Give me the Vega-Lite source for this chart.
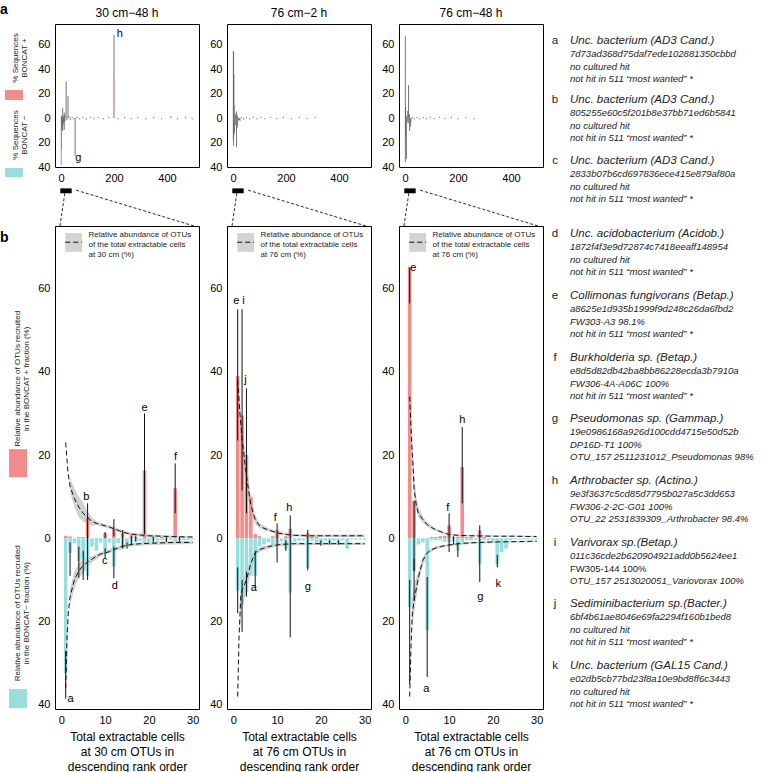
{
"$schema": "https://vega.github.io/schema/vega-lite/v6.json",
"padding": {"top": 2, "left": 0, "right": 0, "bottom": 0},
"autosize": {"type": "pad"},
"background": "white",
"config": {
  "font": "Liberation Sans",
  "view": {"stroke": "#000", "strokeWidth": 1},
  "axis": {"grid": false, "domain": false, "ticks": false, "labelFontSize": 11, "labelColor": "#000", "labelPadding": 5, "labelFlush": false, "labelOverlap": false, "titleFontWeight": "normal", "titleColor": "#000", "titleFontSize": 12},
  "title": {"fontSize": 12, "fontWeight": "normal", "offset": 4, "color": "#000"}
},
"columns": 5,
"bounds": "flush",
"align": "each",
"spacing": {"row": 59, "column": 28},
"concat": [
  {
    "width": 21, "height": 143, "view": {"stroke": null},
    "encoding": {
      "x": {"field": "x", "type": "quantitative", "scale": {"domain": [0, 21], "nice": false, "zero": false}, "axis": null},
      "y": {"field": "y", "type": "quantitative", "scale": {"domain": [-40, 77], "nice": false, "zero": false}, "axis": null}
    },
    "layer": [
      {"data": {"name": "sideTopBox"}, "mark": {"type": "rect"},
       "encoding": {"x2": {"field": "x2"}, "y2": {"field": "y2"}, "color": {"condition": {"test": "datum.s == 'plus'", "value": "#f28c8c"}, "value": "#99dede"}}},
      {"data": {"name": "sideTopText"}, "mark": {"type": "text", "angle": 270, "fontSize": 8, "lineBreak": "\n", "lineHeight": 9, "color": "#222"},
       "encoding": {"text": {"field": "t"}}},
      {"data": {"name": "panelLetterA"}, "mark": {"type": "text", "fontSize": 14, "fontWeight": "bold", "align": "left", "baseline": "alphabetic", "color": "#000"},
       "encoding": {"text": {"field": "t"}}}
    ]
  },
  {
    "width": 144, "height": 143, "title": "30 cm\u221248 h",
    "encoding": {
      "x": {"field": "r", "type": "quantitative", "scale": {"domain": [-23, 521], "nice": false, "zero": false}, "axis": {"values": [0, 200, 400], "title": null}},
      "y": {"field": "v", "type": "quantitative", "scale": {"domain": [-40, 77], "nice": false, "zero": false}, "axis": {"values": [-40, -20, 0, 20, 40, 60], "labelExpr": "abs(datum.value)", "title": null}}
    },
    "layer": [
      {"data": {"values": [{}]}, "mark": {"type": "rule", "strokeDash": [2, 2], "color": "#aaa", "strokeWidth": 0.8},
       "encoding": {"x": {"datum": 0}, "x2": {"datum": 500}, "y": {"datum": 0}}},
      {"data": {"name": "top"}, "transform": [{"filter": "datum.p == 'p1'"}], "mark": {"type": "rule", "strokeWidth": 0.9},
       "encoding": {"y2": {"field": "v2"}, "color": {"condition": [{"test": "datum.part == 'p'", "value": "#f4a3a3"}, {"test": "datum.part == 'm'", "value": "#8fdada"}], "value": "#666666"}}},
      {"data": {"name": "toplab"}, "transform": [{"filter": "datum.p == 'p1'"}], "mark": {"type": "text", "fontSize": 11, "color": "#000"},
       "encoding": {"text": {"field": "t"}}},
      {"data": {"name": "zbar"}, "mark": {"type": "rect", "color": "#000"},
       "encoding": {"x2": {"field": "r2"}, "y2": {"field": "v2"}}}
    ]
  },
  {
    "width": 144, "height": 143, "title": "76 cm\u22122 h",
    "encoding": {
      "x": {"field": "r", "type": "quantitative", "scale": {"domain": [-23, 521], "nice": false, "zero": false}, "axis": {"values": [0, 200, 400], "title": null}},
      "y": {"field": "v", "type": "quantitative", "scale": {"domain": [-40, 77], "nice": false, "zero": false}, "axis": {"values": [-40, -20, 0, 20, 40, 60], "labelExpr": "abs(datum.value)", "title": null}}
    },
    "layer": [
      {"data": {"values": [{}]}, "mark": {"type": "rule", "strokeDash": [2, 2], "color": "#aaa", "strokeWidth": 0.8},
       "encoding": {"x": {"datum": 0}, "x2": {"datum": 320}, "y": {"datum": 0}}},
      {"data": {"name": "top"}, "transform": [{"filter": "datum.p == 'p2'"}], "mark": {"type": "rule", "strokeWidth": 0.9},
       "encoding": {"y2": {"field": "v2"}, "color": {"condition": [{"test": "datum.part == 'p'", "value": "#f4a3a3"}, {"test": "datum.part == 'm'", "value": "#8fdada"}], "value": "#666666"}}},
      {"data": {"name": "zbar"}, "mark": {"type": "rect", "color": "#000"},
       "encoding": {"x2": {"field": "r2"}, "y2": {"field": "v2"}}}
    ]
  },
  {
    "width": 144, "height": 143, "title": "76 cm\u221248 h",
    "encoding": {
      "x": {"field": "r", "type": "quantitative", "scale": {"domain": [-23, 521], "nice": false, "zero": false}, "axis": {"values": [0, 200, 400], "title": null}},
      "y": {"field": "v", "type": "quantitative", "scale": {"domain": [-40, 77], "nice": false, "zero": false}, "axis": {"values": [-40, -20, 0, 20, 40, 60], "labelExpr": "abs(datum.value)", "title": null}}
    },
    "layer": [
      {"data": {"values": [{}]}, "mark": {"type": "rule", "strokeDash": [2, 2], "color": "#aaa", "strokeWidth": 0.8},
       "encoding": {"x": {"datum": 0}, "x2": {"datum": 270}, "y": {"datum": 0}}},
      {"data": {"name": "top"}, "transform": [{"filter": "datum.p == 'p3'"}], "mark": {"type": "rule", "strokeWidth": 0.9},
       "encoding": {"y2": {"field": "v2"}, "color": {"condition": [{"test": "datum.part == 'p'", "value": "#f4a3a3"}, {"test": "datum.part == 'm'", "value": "#8fdada"}], "value": "#666666"}}},
      {"data": {"name": "zbar"}, "mark": {"type": "rect", "color": "#000"},
       "encoding": {"x2": {"field": "r2"}, "y2": {"field": "v2"}}}
    ]
  },
  {
    "width": 185, "height": 143, "view": {"stroke": null},
    "data": {"name": "txtTop"},
    "encoding": {
      "y": {"field": "y", "type": "quantitative", "scale": {"domain": [0, 143], "reverse": true, "nice": false, "zero": false}, "axis": null},
      "text": {"field": "t"}
    },
    "layer": [
      {"transform": [{"filter": "datum.k == 'L'"}], "mark": {"type": "text", "fontSize": 11.5, "align": "center", "color": "#222"},
       "encoding": {"x": {"datum": -16, "type": "quantitative", "scale": {"domain": [0, 185], "nice": false, "zero": false}, "axis": null}}},
      {"transform": [{"filter": "datum.k == 'T'"}], "mark": {"type": "text", "fontSize": 11.5, "fontStyle": "italic", "align": "left", "color": "#222"},
       "encoding": {"x": {"datum": -1, "type": "quantitative"}}},
      {"transform": [{"filter": "datum.k == 'S'"}], "mark": {"type": "text", "fontSize": 9.5, "fontStyle": "italic", "align": "left", "color": "#222"},
       "encoding": {"x": {"datum": -1, "type": "quantitative"}}}
    ]
  },
  {
    "width": 21, "height": 483, "view": {"stroke": null},
    "encoding": {
      "x": {"field": "x", "type": "quantitative", "scale": {"domain": [0, 21], "nice": false, "zero": false}, "axis": null},
      "y": {"field": "y", "type": "quantitative", "scale": {"domain": [-41, 75], "nice": false, "zero": false}, "axis": null}
    },
    "layer": [
      {"data": {"name": "sideBotBox"}, "mark": {"type": "rect"},
       "encoding": {"x2": {"field": "x2"}, "y2": {"field": "y2"}, "color": {"condition": {"test": "datum.s == 'plus'", "value": "#f28c8c"}, "value": "#99dede"}}},
      {"data": {"name": "sideBotText"}, "mark": {"type": "text", "angle": 270, "fontSize": 8, "lineBreak": "\n", "lineHeight": 9, "color": "#222"},
       "encoding": {"text": {"field": "t"}}},
      {"data": {"name": "panelLetterB"}, "mark": {"type": "text", "fontSize": 14, "fontWeight": "bold", "align": "left", "baseline": "alphabetic", "color": "#000"},
       "encoding": {"text": {"field": "t"}}}
    ]
  },
  {
    "width": 144, "height": 483,
    "encoding": {
      "x": {"field": "r", "type": "quantitative", "scale": {"domain": [-0.3, 30.3], "nice": false, "zero": false}, "axis": {"values": [0, 10, 20, 30], "title": ["Total extractable cells", "at 30 cm OTUs in", "descending rank order"], "titlePadding": 6, "titleLineHeight": 15}},
      "y": {"field": "v", "type": "quantitative", "scale": {"domain": [-41, 75], "nice": false, "zero": false}, "axis": {"values": [-40, -20, 0, 20, 40, 60], "labelExpr": "abs(datum.value)", "title": null}}
    },
    "layer": [
      {"data": {"name": "band"}, "transform": [{"filter": "datum.p == 'p1'"}], "mark": {"type": "area", "color": "#c8c8c8", "opacity": 0.85},
       "encoding": {"y2": {"field": "v2"}, "detail": {"field": "side"}}},
      {"data": {"name": "bars"}, "transform": [{"filter": "datum.p == 'p1'"}], "mark": {"type": "bar", "size": 3.6, "orient": "vertical"},
       "encoding": {"y2": {"datum": 0}, "color": {"condition": {"test": "datum.v > 0", "value": "#f28c8c"}, "value": "#99dede"}}},
      {"data": {"values": [{}]}, "mark": {"type": "rule", "strokeDash": [1, 2], "color": "#666", "strokeWidth": 0.8},
       "encoding": {"x": {"datum": -0.3}, "x2": {"datum": 30.3}, "y": {"datum": 0}}},
      {"data": {"name": "err"}, "transform": [{"filter": "datum.p == 'p1'"}], "mark": {"type": "rule", "color": "#111", "strokeWidth": 1},
       "encoding": {"y2": {"field": "v2"}}},
      {"data": {"name": "curve"}, "transform": [{"filter": "datum.p == 'p1'"}], "mark": {"type": "line", "color": "#111", "strokeDash": [5, 3], "strokeWidth": 1},
       "encoding": {"detail": {"field": "side"}}},
      {"data": {"name": "lab"}, "transform": [{"filter": "datum.p == 'p1'"}], "mark": {"type": "text", "fontSize": 11, "color": "#000"},
       "encoding": {"text": {"field": "t"}}},
      {"data": {"name": "legbox"}, "mark": {"type": "rect", "color": "#d3d3d3"},
       "encoding": {"x2": {"field": "r2"}, "y2": {"field": "v2"}}},
      {"data": {"name": "legline"}, "mark": {"type": "line", "color": "#111", "strokeDash": [5, 3], "strokeWidth": 1},
       "encoding": {}},
      {"data": {"name": "legtext"}, "transform": [{"filter": "datum.p == 'p1'"}], "mark": {"type": "text", "fontSize": 8, "align": "left", "baseline": "top", "lineBreak": "\n", "lineHeight": 10, "color": "#222"},
       "encoding": {"text": {"field": "t"}}},
      {"data": {"name": "conn"}, "mark": {"type": "line", "color": "#111", "strokeDash": [3, 2], "strokeWidth": 0.9},
       "encoding": {"detail": {"field": "seg"}}}
    ]
  },
  {
    "width": 144, "height": 483,
    "encoding": {
      "x": {"field": "r", "type": "quantitative", "scale": {"domain": [-0.3, 30.3], "nice": false, "zero": false}, "axis": {"values": [0, 10, 20, 30], "title": ["Total extractable cells", "at 76 cm OTUs in", "descending rank order"], "titlePadding": 6, "titleLineHeight": 15}},
      "y": {"field": "v", "type": "quantitative", "scale": {"domain": [-41, 75], "nice": false, "zero": false}, "axis": {"values": [-40, -20, 0, 20, 40, 60], "labelExpr": "abs(datum.value)", "title": null}}
    },
    "layer": [
      {"data": {"name": "band"}, "transform": [{"filter": "datum.p == 'p2'"}], "mark": {"type": "area", "color": "#c8c8c8", "opacity": 0.85},
       "encoding": {"y2": {"field": "v2"}, "detail": {"field": "side"}}},
      {"data": {"name": "bars"}, "transform": [{"filter": "datum.p == 'p2'"}], "mark": {"type": "bar", "size": 3.6, "orient": "vertical"},
       "encoding": {"y2": {"datum": 0}, "color": {"condition": {"test": "datum.v > 0", "value": "#f28c8c"}, "value": "#99dede"}}},
      {"data": {"values": [{}]}, "mark": {"type": "rule", "strokeDash": [1, 2], "color": "#666", "strokeWidth": 0.8},
       "encoding": {"x": {"datum": -0.3}, "x2": {"datum": 30.3}, "y": {"datum": 0}}},
      {"data": {"name": "err"}, "transform": [{"filter": "datum.p == 'p2'"}], "mark": {"type": "rule", "color": "#111", "strokeWidth": 1},
       "encoding": {"y2": {"field": "v2"}}},
      {"data": {"name": "curve"}, "transform": [{"filter": "datum.p == 'p2'"}], "mark": {"type": "line", "color": "#111", "strokeDash": [5, 3], "strokeWidth": 1},
       "encoding": {"detail": {"field": "side"}}},
      {"data": {"name": "lab"}, "transform": [{"filter": "datum.p == 'p2'"}], "mark": {"type": "text", "fontSize": 11, "color": "#000"},
       "encoding": {"text": {"field": "t"}}},
      {"data": {"name": "legbox"}, "mark": {"type": "rect", "color": "#d3d3d3"},
       "encoding": {"x2": {"field": "r2"}, "y2": {"field": "v2"}}},
      {"data": {"name": "legline"}, "mark": {"type": "line", "color": "#111", "strokeDash": [5, 3], "strokeWidth": 1},
       "encoding": {}},
      {"data": {"name": "legtext"}, "transform": [{"filter": "datum.p == 'p2'"}], "mark": {"type": "text", "fontSize": 8, "align": "left", "baseline": "top", "lineBreak": "\n", "lineHeight": 10, "color": "#222"},
       "encoding": {"text": {"field": "t"}}},
      {"data": {"name": "conn"}, "mark": {"type": "line", "color": "#111", "strokeDash": [3, 2], "strokeWidth": 0.9},
       "encoding": {"detail": {"field": "seg"}}}
    ]
  },
  {
    "width": 144, "height": 483,
    "encoding": {
      "x": {"field": "r", "type": "quantitative", "scale": {"domain": [-0.3, 30.3], "nice": false, "zero": false}, "axis": {"values": [0, 10, 20, 30], "title": ["Total extractable cells", "at 76 cm OTUs in", "descending rank order"], "titlePadding": 6, "titleLineHeight": 15}},
      "y": {"field": "v", "type": "quantitative", "scale": {"domain": [-41, 75], "nice": false, "zero": false}, "axis": {"values": [-40, -20, 0, 20, 40, 60], "labelExpr": "abs(datum.value)", "title": null}}
    },
    "layer": [
      {"data": {"name": "band"}, "transform": [{"filter": "datum.p == 'p3'"}], "mark": {"type": "area", "color": "#c8c8c8", "opacity": 0.85},
       "encoding": {"y2": {"field": "v2"}, "detail": {"field": "side"}}},
      {"data": {"name": "bars"}, "transform": [{"filter": "datum.p == 'p3'"}], "mark": {"type": "bar", "size": 3.6, "orient": "vertical"},
       "encoding": {"y2": {"datum": 0}, "color": {"condition": {"test": "datum.v > 0", "value": "#f28c8c"}, "value": "#99dede"}}},
      {"data": {"values": [{}]}, "mark": {"type": "rule", "strokeDash": [1, 2], "color": "#666", "strokeWidth": 0.8},
       "encoding": {"x": {"datum": -0.3}, "x2": {"datum": 30.3}, "y": {"datum": 0}}},
      {"data": {"name": "err"}, "transform": [{"filter": "datum.p == 'p3'"}], "mark": {"type": "rule", "color": "#111", "strokeWidth": 1},
       "encoding": {"y2": {"field": "v2"}}},
      {"data": {"name": "curve"}, "transform": [{"filter": "datum.p == 'p3'"}], "mark": {"type": "line", "color": "#111", "strokeDash": [5, 3], "strokeWidth": 1},
       "encoding": {"detail": {"field": "side"}}},
      {"data": {"name": "lab"}, "transform": [{"filter": "datum.p == 'p3'"}], "mark": {"type": "text", "fontSize": 11, "color": "#000"},
       "encoding": {"text": {"field": "t"}}},
      {"data": {"name": "legbox"}, "mark": {"type": "rect", "color": "#d3d3d3"},
       "encoding": {"x2": {"field": "r2"}, "y2": {"field": "v2"}}},
      {"data": {"name": "legline"}, "mark": {"type": "line", "color": "#111", "strokeDash": [5, 3], "strokeWidth": 1},
       "encoding": {}},
      {"data": {"name": "legtext"}, "transform": [{"filter": "datum.p == 'p3'"}], "mark": {"type": "text", "fontSize": 8, "align": "left", "baseline": "top", "lineBreak": "\n", "lineHeight": 10, "color": "#222"},
       "encoding": {"text": {"field": "t"}}},
      {"data": {"name": "conn"}, "mark": {"type": "line", "color": "#111", "strokeDash": [3, 2], "strokeWidth": 0.9},
       "encoding": {"detail": {"field": "seg"}}}
    ]
  },
  {
    "width": 185, "height": 483, "view": {"stroke": null},
    "data": {"name": "txtBot"},
    "encoding": {
      "y": {"field": "y", "type": "quantitative", "scale": {"domain": [0, 483], "reverse": true, "nice": false, "zero": false}, "axis": null},
      "text": {"field": "t"}
    },
    "layer": [
      {"transform": [{"filter": "datum.k == 'L'"}], "mark": {"type": "text", "fontSize": 11.5, "align": "center", "color": "#222"},
       "encoding": {"x": {"datum": -16, "type": "quantitative", "scale": {"domain": [0, 185], "nice": false, "zero": false}, "axis": null}}},
      {"transform": [{"filter": "datum.k == 'T'"}], "mark": {"type": "text", "fontSize": 11.5, "fontStyle": "italic", "align": "left", "color": "#222"},
       "encoding": {"x": {"datum": -1, "type": "quantitative"}}},
      {"transform": [{"filter": "datum.k == 'S'"}], "mark": {"type": "text", "fontSize": 9.5, "fontStyle": "italic", "align": "left", "color": "#222"},
       "encoding": {"x": {"datum": -1, "type": "quantitative"}}},
      {"transform": [{"filter": "datum.k == 'N'"}], "mark": {"type": "text", "fontSize": 9.5, "align": "left", "color": "#222"},
       "encoding": {"x": {"datum": -1, "type": "quantitative"}}}
    ]
  }
],
"datasets": {
  "sideTopBox": [
    {"x": -1, "x2": 17, "y": 23, "y2": 14.8, "s": "plus"},
    {"x": -1, "x2": 17, "y": -40.8, "y2": -48.2, "s": "minus"}
  ],
  "sideTopText": [
    {"x": 9.5, "y": 49.2, "t": "% Sequences\nBONCAT +"},
    {"x": 9.5, "y": -13.8, "t": "% Sequences\nBONCAT \u2212"}
  ],
  "panelLetterA": [{"x": -6, "y": 85.2, "t": "a"}],
  "sideBotBox": [
    {"x": 3, "x2": 21, "y": 21.4, "y2": 14.7, "s": "plus"},
    {"x": 3, "x2": 21, "y": -36.2, "y2": -40.8, "s": "minus"}
  ],
  "sideBotText": [
    {"x": 11.5, "y": 38.3, "t": "Relative abundance of OTUs recruited\nin the BONCAT + fraction (%)"},
    {"x": 11.5, "y": -18, "t": "Relative abundance of OTUs recruited\nin the BONCAT\u2212 fraction (%)"}
  ],
  "panelLetterB": [{"x": -6, "y": 71.2, "t": "b"}],
  "zbar": [{"r": -3, "r2": 40, "v": -57.5, "v2": -61.5}],
  "conn": [
    {"seg": "L", "r": 0.9, "v": 83.6}, {"seg": "L", "r": -0.3, "v": 75},
    {"seg": "R", "r": 3.4, "v": 83.6}, {"seg": "R", "r": 30.3, "v": 75}
  ],
  "legbox": [{"r": 0.9, "r2": 4.75, "v": 73.3, "v2": 68.8}],
  "legline": [{"r": 0.9, "v": 71.1}, {"r": 4.75, "v": 71.1}],
  "legtext": [
    {"p": "p1", "r": 6.2, "v": 73.9, "t": "Relative abundance of OTUs\nof the total extractable cells\nat 30 cm (%)"},
    {"p": "p2", "r": 6.2, "v": 73.9, "t": "Relative abundance of OTUs\nof the total extractable cells\nat 76 cm (%)"},
    {"p": "p3", "r": 6.2, "v": 73.9, "t": "Relative abundance of OTUs\nof the total extractable cells\nat 76 cm (%)"}
  ],
  "toplab": [
    {"p": "p1", "r": 222, "v": 69, "t": "h"},
    {"p": "p1", "r": 65, "v": -33, "t": "g"}
  ],
  "top": [
    {"p": "p1", "r": 1, "v": 0, "v2": -38, "part": "t"},
    {"p": "p1", "r": 1, "v": -26, "v2": -38, "part": "m"},
    {"p": "p1", "r": 1, "v": 0, "v2": 1.5, "part": "t"},
    {"p": "p1", "r": 2, "v": 0, "v2": -3.5, "part": "t"},
    {"p": "p1", "r": 3, "v": 0, "v2": 2, "part": "t"},
    {"p": "p1", "r": 4, "v": 0, "v2": -10, "part": "t"},
    {"p": "p1", "r": 5, "v": 0, "v2": -10, "part": "t"},
    {"p": "p1", "r": 6, "v": 0, "v2": 8.4, "part": "t"},
    {"p": "p1", "r": 6, "v": 0, "v2": -10, "part": "t"},
    {"p": "p1", "r": 8, "v": 0, "v2": -3, "part": "t"},
    {"p": "p1", "r": 10, "v": 0, "v2": -5, "part": "t"},
    {"p": "p1", "r": 10, "v": 0, "v2": 2, "part": "t"},
    {"p": "p1", "r": 12, "v": 0, "v2": 4.6, "part": "t"},
    {"p": "p1", "r": 12, "v": 0, "v2": -9.6, "part": "t"},
    {"p": "p1", "r": 14, "v": 0, "v2": 2.5, "part": "t"},
    {"p": "p1", "r": 15, "v": 0, "v2": -2.5, "part": "t"},
    {"p": "p1", "r": 19, "v": 0, "v2": 30, "part": "t"},
    {"p": "p1", "r": 22, "v": 0, "v2": -1.5, "part": "t"},
    {"p": "p1", "r": 26, "v": 0, "v2": 18, "part": "t"},
    {"p": "p1", "r": 30, "v": 0, "v2": 1.5, "part": "t"},
    {"p": "p1", "r": 35, "v": 0, "v2": -1.5, "part": "t"},
    {"p": "p1", "r": 42, "v": 0, "v2": 1, "part": "t"},
    {"p": "p1", "r": 48, "v": 0, "v2": -1, "part": "t"},
    {"p": "p1", "r": 53, "v": 0, "v2": -31, "part": "t"},
    {"p": "p1", "r": 60, "v": 0, "v2": 1.2, "part": "t"},
    {"p": "p1", "r": 70, "v": 0, "v2": -1, "part": "t"},
    {"p": "p1", "r": 82, "v": 0, "v2": 1, "part": "t"},
    {"p": "p1", "r": 95, "v": 0, "v2": -1.2, "part": "t"},
    {"p": "p1", "r": 110, "v": 0, "v2": 1, "part": "t"},
    {"p": "p1", "r": 125, "v": 0, "v2": -1, "part": "t"},
    {"p": "p1", "r": 140, "v": 0, "v2": 1, "part": "t"},
    {"p": "p1", "r": 160, "v": 0, "v2": -1, "part": "t"},
    {"p": "p1", "r": 180, "v": 0, "v2": 1, "part": "t"},
    {"p": "p1", "r": 200, "v": 0, "v2": 68, "part": "t"},
    {"p": "p1", "r": 200, "v": 0, "v2": 33, "part": "p"},
    {"p": "p1", "r": 215, "v": 0, "v2": -1, "part": "t"},
    {"p": "p1", "r": 240, "v": 0, "v2": 1, "part": "t"},
    {"p": "p1", "r": 265, "v": 0, "v2": -1, "part": "t"},
    {"p": "p1", "r": 290, "v": 0, "v2": 1, "part": "t"},
    {"p": "p1", "r": 320, "v": 0, "v2": -1, "part": "t"},
    {"p": "p1", "r": 350, "v": 0, "v2": 1, "part": "t"},
    {"p": "p1", "r": 380, "v": 0, "v2": -1, "part": "t"},
    {"p": "p1", "r": 415, "v": 0, "v2": 1.5, "part": "t"},
    {"p": "p1", "r": 440, "v": 0, "v2": -1, "part": "t"},
    {"p": "p1", "r": 470, "v": 0, "v2": 1, "part": "t"},
    {"p": "p1", "r": 495, "v": 0, "v2": -1, "part": "t"},
    {"p": "p2", "r": 1, "v": 0, "v2": 55, "part": "t"},
    {"p": "p2", "r": 1, "v": 0, "v2": -18, "part": "t"},
    {"p": "p2", "r": 2, "v": 0, "v2": 54, "part": "t"},
    {"p": "p2", "r": 2, "v": 0, "v2": -22.5, "part": "t"},
    {"p": "p2", "r": 3, "v": 0, "v2": 36, "part": "t"},
    {"p": "p2", "r": 3, "v": 0, "v2": -14, "part": "t"},
    {"p": "p2", "r": 4, "v": 0, "v2": 10, "part": "t"},
    {"p": "p2", "r": 5, "v": 0, "v2": -12, "part": "t"},
    {"p": "p2", "r": 7, "v": 0, "v2": 2, "part": "t"},
    {"p": "p2", "r": 10, "v": 0, "v2": 3.6, "part": "t"},
    {"p": "p2", "r": 10, "v": 0, "v2": -5.8, "part": "t"},
    {"p": "p2", "r": 13, "v": 0, "v2": 5.5, "part": "t"},
    {"p": "p2", "r": 13, "v": 0, "v2": -23.8, "part": "t"},
    {"p": "p2", "r": 17, "v": 0, "v2": 2, "part": "t"},
    {"p": "p2", "r": 17, "v": 0, "v2": -7.7, "part": "t"},
    {"p": "p2", "r": 20, "v": 0, "v2": -1.8, "part": "t"},
    {"p": "p2", "r": 24, "v": 0, "v2": -1.5, "part": "t"},
    {"p": "p2", "r": 26, "v": 0, "v2": -2.5, "part": "t"},
    {"p": "p2", "r": 32, "v": 0, "v2": 1, "part": "t"},
    {"p": "p2", "r": 40, "v": 0, "v2": -1.2, "part": "t"},
    {"p": "p2", "r": 50, "v": 0, "v2": 1, "part": "t"},
    {"p": "p2", "r": 62, "v": 0, "v2": -1, "part": "t"},
    {"p": "p2", "r": 75, "v": 0, "v2": 1, "part": "t"},
    {"p": "p2", "r": 90, "v": 0, "v2": -1, "part": "t"},
    {"p": "p2", "r": 105, "v": 0, "v2": 1, "part": "t"},
    {"p": "p2", "r": 120, "v": 0, "v2": -1, "part": "t"},
    {"p": "p2", "r": 140, "v": 0, "v2": 1, "part": "t"},
    {"p": "p2", "r": 165, "v": 0, "v2": -1, "part": "t"},
    {"p": "p2", "r": 190, "v": 0, "v2": 1, "part": "t"},
    {"p": "p2", "r": 220, "v": 0, "v2": -1, "part": "t"},
    {"p": "p2", "r": 250, "v": 0, "v2": 1, "part": "t"},
    {"p": "p2", "r": 280, "v": 0, "v2": -1, "part": "t"},
    {"p": "p2", "r": 310, "v": 0, "v2": 1, "part": "t"},
    {"p": "p3", "r": 1, "v": 0, "v2": 67, "part": "t"},
    {"p": "p3", "r": 1, "v": 0, "v2": -36, "part": "t"},
    {"p": "p3", "r": 2, "v": 0, "v2": 9, "part": "t"},
    {"p": "p3", "r": 2, "v": 0, "v2": -15, "part": "t"},
    {"p": "p3", "r": 3, "v": 0, "v2": 2, "part": "t"},
    {"p": "p3", "r": 5, "v": 0, "v2": -33.3, "part": "t"},
    {"p": "p3", "r": 7, "v": 0, "v2": 1.5, "part": "t"},
    {"p": "p3", "r": 10, "v": 0, "v2": 6, "part": "t"},
    {"p": "p3", "r": 10, "v": 0, "v2": -3.3, "part": "t"},
    {"p": "p3", "r": 12, "v": 0, "v2": -4.5, "part": "t"},
    {"p": "p3", "r": 13, "v": 0, "v2": 27, "part": "t"},
    {"p": "p3", "r": 17, "v": 0, "v2": 3.1, "part": "t"},
    {"p": "p3", "r": 17, "v": 0, "v2": -10.5, "part": "t"},
    {"p": "p3", "r": 21, "v": 0, "v2": -7, "part": "t"},
    {"p": "p3", "r": 22, "v": 0, "v2": -3, "part": "t"},
    {"p": "p3", "r": 28, "v": 0, "v2": 1, "part": "t"},
    {"p": "p3", "r": 35, "v": 0, "v2": -1.2, "part": "t"},
    {"p": "p3", "r": 45, "v": 0, "v2": 1, "part": "t"},
    {"p": "p3", "r": 55, "v": 0, "v2": -1, "part": "t"},
    {"p": "p3", "r": 68, "v": 0, "v2": 1, "part": "t"},
    {"p": "p3", "r": 80, "v": 0, "v2": -1, "part": "t"},
    {"p": "p3", "r": 95, "v": 0, "v2": 1, "part": "t"},
    {"p": "p3", "r": 110, "v": 0, "v2": -1, "part": "t"},
    {"p": "p3", "r": 130, "v": 0, "v2": 1, "part": "t"},
    {"p": "p3", "r": 150, "v": 0, "v2": -1, "part": "t"},
    {"p": "p3", "r": 175, "v": 0, "v2": 1, "part": "t"},
    {"p": "p3", "r": 200, "v": 0, "v2": -1, "part": "t"},
    {"p": "p3", "r": 230, "v": 0, "v2": 1, "part": "t"},
    {"p": "p3", "r": 260, "v": 0, "v2": -1, "part": "t"}
  ],
  "bars": [
    {"p": "p1", "r": 1, "v": 0.6}, {"p": "p1", "r": 2, "v": 0.4}, {"p": "p1", "r": 4, "v": 0.3}, {"p": "p1", "r": 5, "v": 0.3},
    {"p": "p1", "r": 6, "v": 5.2}, {"p": "p1", "r": 10, "v": 1.2}, {"p": "p1", "r": 12, "v": 2.2}, {"p": "p1", "r": 14, "v": 1.2},
    {"p": "p1", "r": 16, "v": 0.9}, {"p": "p1", "r": 17, "v": 0.3}, {"p": "p1", "r": 19, "v": 16.3}, {"p": "p1", "r": 21, "v": 0.2},
    {"p": "p1", "r": 23, "v": 0.3}, {"p": "p1", "r": 26, "v": 12}, {"p": "p1", "r": 28, "v": 0.2},
    {"p": "p1", "r": 1, "v": -32.5}, {"p": "p1", "r": 2, "v": -3.5}, {"p": "p1", "r": 3, "v": -1.2}, {"p": "p1", "r": 4, "v": -5.5},
    {"p": "p1", "r": 5, "v": -5}, {"p": "p1", "r": 6, "v": -9}, {"p": "p1", "r": 7, "v": -2}, {"p": "p1", "r": 8, "v": -3},
    {"p": "p1", "r": 9, "v": -1}, {"p": "p1", "r": 10, "v": -3.8}, {"p": "p1", "r": 11, "v": -1}, {"p": "p1", "r": 12, "v": -6.8},
    {"p": "p1", "r": 13, "v": -1.2}, {"p": "p1", "r": 14, "v": -2.1}, {"p": "p1", "r": 15, "v": -1.6}, {"p": "p1", "r": 16, "v": -1.4},
    {"p": "p1", "r": 17, "v": -0.8}, {"p": "p1", "r": 18, "v": -0.6}, {"p": "p1", "r": 19, "v": -1}, {"p": "p1", "r": 20, "v": -0.8},
    {"p": "p1", "r": 21, "v": -0.5}, {"p": "p1", "r": 22, "v": -0.6}, {"p": "p1", "r": 23, "v": -0.4}, {"p": "p1", "r": 24, "v": -0.5},
    {"p": "p1", "r": 25, "v": -0.4}, {"p": "p1", "r": 26, "v": -0.8}, {"p": "p1", "r": 27, "v": -0.5}, {"p": "p1", "r": 28, "v": -0.4},
    {"p": "p1", "r": 29, "v": -0.4}, {"p": "p1", "r": 30, "v": -0.3},
    {"p": "p2", "r": 1, "v": 39}, {"p": "p2", "r": 2, "v": 29.5}, {"p": "p2", "r": 3, "v": 20}, {"p": "p2", "r": 4, "v": 10},
    {"p": "p2", "r": 5, "v": 1}, {"p": "p2", "r": 6, "v": 0.5}, {"p": "p2", "r": 9, "v": 0.5}, {"p": "p2", "r": 10, "v": 2},
    {"p": "p2", "r": 12, "v": 0.5}, {"p": "p2", "r": 13, "v": 2.3}, {"p": "p2", "r": 17, "v": 1.2}, {"p": "p2", "r": 18, "v": 0.4},
    {"p": "p2", "r": 19, "v": 0.3},
    {"p": "p2", "r": 1, "v": -12.5}, {"p": "p2", "r": 2, "v": -16}, {"p": "p2", "r": 3, "v": -13}, {"p": "p2", "r": 4, "v": -9},
    {"p": "p2", "r": 5, "v": -9}, {"p": "p2", "r": 6, "v": -2}, {"p": "p2", "r": 7, "v": -1.5}, {"p": "p2", "r": 8, "v": -1},
    {"p": "p2", "r": 9, "v": -1.5}, {"p": "p2", "r": 10, "v": -1.2}, {"p": "p2", "r": 11, "v": -0.8}, {"p": "p2", "r": 12, "v": -2.5},
    {"p": "p2", "r": 13, "v": -13}, {"p": "p2", "r": 14, "v": -0.8}, {"p": "p2", "r": 15, "v": -0.6}, {"p": "p2", "r": 16, "v": -0.5},
    {"p": "p2", "r": 17, "v": -7.2}, {"p": "p2", "r": 18, "v": -0.6}, {"p": "p2", "r": 19, "v": -1}, {"p": "p2", "r": 20, "v": -1.2},
    {"p": "p2", "r": 21, "v": -0.6}, {"p": "p2", "r": 22, "v": -1.5}, {"p": "p2", "r": 23, "v": -0.6}, {"p": "p2", "r": 24, "v": -1.5},
    {"p": "p2", "r": 25, "v": -0.5}, {"p": "p2", "r": 26, "v": -2.5}, {"p": "p2", "r": 27, "v": -0.3}, {"p": "p2", "r": 28, "v": -0.3},
    {"p": "p2", "r": 29, "v": -0.3}, {"p": "p2", "r": 30, "v": -0.3},
    {"p": "p3", "r": 1, "v": 65.2}, {"p": "p3", "r": 2, "v": 9}, {"p": "p3", "r": 6, "v": 0.3}, {"p": "p3", "r": 7, "v": 0.3},
    {"p": "p3", "r": 8, "v": 0.5}, {"p": "p3", "r": 9, "v": 0.6}, {"p": "p3", "r": 10, "v": 3.1}, {"p": "p3", "r": 11, "v": 0.3},
    {"p": "p3", "r": 12, "v": 0.4}, {"p": "p3", "r": 13, "v": 17.1}, {"p": "p3", "r": 14, "v": 0.3}, {"p": "p3", "r": 15, "v": 0.3},
    {"p": "p3", "r": 17, "v": 1.9}, {"p": "p3", "r": 18, "v": 0.3},
    {"p": "p3", "r": 1, "v": -16.5}, {"p": "p3", "r": 2, "v": -8}, {"p": "p3", "r": 3, "v": -1.5}, {"p": "p3", "r": 4, "v": -1},
    {"p": "p3", "r": 5, "v": -22.1}, {"p": "p3", "r": 6, "v": -0.5}, {"p": "p3", "r": 7, "v": -0.5}, {"p": "p3", "r": 8, "v": -0.5},
    {"p": "p3", "r": 9, "v": -0.8}, {"p": "p3", "r": 10, "v": -1}, {"p": "p3", "r": 11, "v": -0.8}, {"p": "p3", "r": 12, "v": -3},
    {"p": "p3", "r": 13, "v": -1}, {"p": "p3", "r": 14, "v": -0.5}, {"p": "p3", "r": 15, "v": -0.5}, {"p": "p3", "r": 16, "v": -0.4},
    {"p": "p3", "r": 17, "v": -6.1}, {"p": "p3", "r": 18, "v": -0.4}, {"p": "p3", "r": 19, "v": -0.5}, {"p": "p3", "r": 20, "v": -0.8},
    {"p": "p3", "r": 21, "v": -6.3}, {"p": "p3", "r": 22, "v": -3.3}, {"p": "p3", "r": 23, "v": -2.5}, {"p": "p3", "r": 24, "v": -0.5},
    {"p": "p3", "r": 25, "v": -0.3}, {"p": "p3", "r": 26, "v": -0.3}, {"p": "p3", "r": 27, "v": -0.3}, {"p": "p3", "r": 28, "v": -0.3},
    {"p": "p3", "r": 29, "v": -0.3}, {"p": "p3", "r": 30, "v": -0.3}
  ],
  "err": [
    {"p": "p1", "r": 1, "v": -27, "v2": -38.5}, {"p": "p1", "r": 2, "v": -1, "v2": -9}, {"p": "p1", "r": 4, "v": -2, "v2": -9.5},
    {"p": "p1", "r": 5, "v": -3, "v2": -10}, {"p": "p1", "r": 6, "v": 8.4, "v2": -10}, {"p": "p1", "r": 10, "v": 1.5, "v2": 0},
    {"p": "p1", "r": 10, "v": -2.4, "v2": -4.8}, {"p": "p1", "r": 12, "v": 4.6, "v2": 0.5}, {"p": "p1", "r": 12, "v": -2, "v2": -9.6},
    {"p": "p1", "r": 14, "v": 2, "v2": -2.5}, {"p": "p1", "r": 15, "v": -1, "v2": -2.5}, {"p": "p1", "r": 16, "v": 0.5, "v2": -1.5},
    {"p": "p1", "r": 17, "v": 0.6, "v2": -0.8}, {"p": "p1", "r": 19, "v": 30, "v2": 1}, {"p": "p1", "r": 21, "v": 0.4, "v2": -1},
    {"p": "p1", "r": 24, "v": 0.3, "v2": -0.9}, {"p": "p1", "r": 26, "v": 18, "v2": 6}, {"p": "p1", "r": 27, "v": 0.3, "v2": -0.8},
    {"p": "p2", "r": 1, "v": 55, "v2": 23.5}, {"p": "p2", "r": 1, "v": -7, "v2": -18}, {"p": "p2", "r": 2, "v": 55, "v2": 11.5},
    {"p": "p2", "r": 2, "v": -10, "v2": -22.5}, {"p": "p2", "r": 3, "v": 36, "v2": 6}, {"p": "p2", "r": 3, "v": -8, "v2": -14},
    {"p": "p2", "r": 5, "v": -3, "v2": -12}, {"p": "p2", "r": 10, "v": 3.6, "v2": -5.8}, {"p": "p2", "r": 12, "v": -0.5, "v2": -3},
    {"p": "p2", "r": 13, "v": 5.5, "v2": -23.8}, {"p": "p2", "r": 17, "v": 2, "v2": -7.7}, {"p": "p2", "r": 20, "v": -0.5, "v2": -1.8},
    {"p": "p2", "r": 22, "v": -0.5, "v2": -1.5}, {"p": "p2", "r": 24, "v": -0.5, "v2": -1.5},
    {"p": "p3", "r": 1, "v": 65, "v2": 56.4}, {"p": "p3", "r": 1, "v": -10, "v2": -35}, {"p": "p3", "r": 2, "v": 9, "v2": -7.7},
    {"p": "p3", "r": 2, "v": -5, "v2": -15}, {"p": "p3", "r": 5, "v": -9.3, "v2": -33.3}, {"p": "p3", "r": 10, "v": 6, "v2": -3.3},
    {"p": "p3", "r": 11, "v": 0.5, "v2": -1.5}, {"p": "p3", "r": 12, "v": -1, "v2": -4.5}, {"p": "p3", "r": 13, "v": 26.7, "v2": 8.4},
    {"p": "p3", "r": 17, "v": 3.1, "v2": -10.5}, {"p": "p3", "r": 21, "v": -4, "v2": -7}
  ],
  "lab": [
    {"p": "p1", "r": 5.7, "v": 9.8, "t": "b"}, {"p": "p1", "r": 2.1, "v": -38.7, "t": "a"}, {"p": "p1", "r": 9.9, "v": -5.5, "t": "c"},
    {"p": "p1", "r": 12.2, "v": -11.5, "t": "d"}, {"p": "p1", "r": 19, "v": 31.2, "t": "e"}, {"p": "p1", "r": 26.1, "v": 19.5, "t": "f"},
    {"p": "p2", "r": 0.7, "v": 57, "t": "e"}, {"p": "p2", "r": 2.3, "v": 57, "t": "i"}, {"p": "p2", "r": 2.8, "v": 38, "t": "j"},
    {"p": "p2", "r": 4.7, "v": -12, "t": "a"}, {"p": "p2", "r": 9.6, "v": 4.8, "t": "f"}, {"p": "p2", "r": 12.8, "v": 7.2, "t": "h"},
    {"p": "p2", "r": 17, "v": -11.7, "t": "g"},
    {"p": "p3", "r": 1.8, "v": 65, "t": "e"}, {"p": "p3", "r": 4.8, "v": -36.1, "t": "a"}, {"p": "p3", "r": 9.7, "v": 7.2, "t": "f"},
    {"p": "p3", "r": 13, "v": 28.3, "t": "h"}, {"p": "p3", "r": 17.1, "v": -14.1, "t": "g"}, {"p": "p3", "r": 21.2, "v": -10.9, "t": "k"}
  ],
  "curve": [
    {"p": "p1", "side": "pos", "r": 1, "v": 23}, {"p": "p1", "side": "pos", "r": 1.5, "v": 16}, {"p": "p1", "side": "pos", "r": 2, "v": 12.5},
    {"p": "p1", "side": "pos", "r": 3, "v": 9.5}, {"p": "p1", "side": "pos", "r": 4, "v": 7.5}, {"p": "p1", "side": "pos", "r": 5, "v": 6},
    {"p": "p1", "side": "pos", "r": 6, "v": 5}, {"p": "p1", "side": "pos", "r": 7, "v": 4}, {"p": "p1", "side": "pos", "r": 8, "v": 3.6},
    {"p": "p1", "side": "pos", "r": 9, "v": 3.3}, {"p": "p1", "side": "pos", "r": 10, "v": 3}, {"p": "p1", "side": "pos", "r": 11, "v": 2.7},
    {"p": "p1", "side": "pos", "r": 12, "v": 2.3}, {"p": "p1", "side": "pos", "r": 13, "v": 1.9}, {"p": "p1", "side": "pos", "r": 14, "v": 1.5},
    {"p": "p1", "side": "pos", "r": 15, "v": 1.2}, {"p": "p1", "side": "pos", "r": 16, "v": 1}, {"p": "p1", "side": "pos", "r": 18, "v": 0.8},
    {"p": "p1", "side": "pos", "r": 20, "v": 0.6}, {"p": "p1", "side": "pos", "r": 23, "v": 0.5}, {"p": "p1", "side": "pos", "r": 26, "v": 0.4},
    {"p": "p1", "side": "pos", "r": 30, "v": 0.3},
    {"p": "p1", "side": "neg", "r": 1, "v": -36}, {"p": "p1", "side": "neg", "r": 1.3, "v": -24}, {"p": "p1", "side": "neg", "r": 1.6, "v": -18},
    {"p": "p1", "side": "neg", "r": 2, "v": -14}, {"p": "p1", "side": "neg", "r": 3, "v": -10}, {"p": "p1", "side": "neg", "r": 4, "v": -7.8},
    {"p": "p1", "side": "neg", "r": 5, "v": -6.5}, {"p": "p1", "side": "neg", "r": 6, "v": -5.7}, {"p": "p1", "side": "neg", "r": 7, "v": -5},
    {"p": "p1", "side": "neg", "r": 8, "v": -4.3}, {"p": "p1", "side": "neg", "r": 9, "v": -3.8}, {"p": "p1", "side": "neg", "r": 10, "v": -3.5},
    {"p": "p1", "side": "neg", "r": 11, "v": -3.2}, {"p": "p1", "side": "neg", "r": 12, "v": -2.7}, {"p": "p1", "side": "neg", "r": 13, "v": -2.3},
    {"p": "p1", "side": "neg", "r": 14, "v": -1.9}, {"p": "p1", "side": "neg", "r": 15, "v": -1.7}, {"p": "p1", "side": "neg", "r": 16, "v": -1.5},
    {"p": "p1", "side": "neg", "r": 18, "v": -1.3}, {"p": "p1", "side": "neg", "r": 20, "v": -1.2}, {"p": "p1", "side": "neg", "r": 23, "v": -1.1},
    {"p": "p1", "side": "neg", "r": 26, "v": -1}, {"p": "p1", "side": "neg", "r": 30, "v": -1},
    {"p": "p2", "side": "pos", "r": 1, "v": 38}, {"p": "p2", "side": "pos", "r": 1.5, "v": 30}, {"p": "p2", "side": "pos", "r": 2, "v": 24},
    {"p": "p2", "side": "pos", "r": 3, "v": 15}, {"p": "p2", "side": "pos", "r": 4, "v": 8}, {"p": "p2", "side": "pos", "r": 5, "v": 4.5},
    {"p": "p2", "side": "pos", "r": 6, "v": 3}, {"p": "p2", "side": "pos", "r": 7, "v": 2.4}, {"p": "p2", "side": "pos", "r": 8, "v": 2},
    {"p": "p2", "side": "pos", "r": 10, "v": 1.3}, {"p": "p2", "side": "pos", "r": 12, "v": 0.9}, {"p": "p2", "side": "pos", "r": 14, "v": 0.7},
    {"p": "p2", "side": "pos", "r": 17, "v": 0.6}, {"p": "p2", "side": "pos", "r": 20, "v": 0.6}, {"p": "p2", "side": "pos", "r": 25, "v": 0.6},
    {"p": "p2", "side": "pos", "r": 30, "v": 0.6},
    {"p": "p2", "side": "neg", "r": 1, "v": -38}, {"p": "p2", "side": "neg", "r": 1.3, "v": -24}, {"p": "p2", "side": "neg", "r": 1.7, "v": -14},
    {"p": "p2", "side": "neg", "r": 2, "v": -12.5}, {"p": "p2", "side": "neg", "r": 3, "v": -10}, {"p": "p2", "side": "neg", "r": 4, "v": -6},
    {"p": "p2", "side": "neg", "r": 5, "v": -3.5}, {"p": "p2", "side": "neg", "r": 6, "v": -2.7}, {"p": "p2", "side": "neg", "r": 8, "v": -2},
    {"p": "p2", "side": "neg", "r": 10, "v": -1.6}, {"p": "p2", "side": "neg", "r": 12, "v": -1.4}, {"p": "p2", "side": "neg", "r": 14, "v": -1.3},
    {"p": "p2", "side": "neg", "r": 17, "v": -1.3}, {"p": "p2", "side": "neg", "r": 20, "v": -1.3}, {"p": "p2", "side": "neg", "r": 25, "v": -1.3},
    {"p": "p2", "side": "neg", "r": 30, "v": -1.3},
    {"p": "p3", "side": "pos", "r": 1, "v": 34}, {"p": "p3", "side": "pos", "r": 1.5, "v": 22}, {"p": "p3", "side": "pos", "r": 1.8, "v": 17},
    {"p": "p3", "side": "pos", "r": 2, "v": 12}, {"p": "p3", "side": "pos", "r": 2.5, "v": 8}, {"p": "p3", "side": "pos", "r": 3, "v": 6},
    {"p": "p3", "side": "pos", "r": 4, "v": 4.5}, {"p": "p3", "side": "pos", "r": 5, "v": 3.3}, {"p": "p3", "side": "pos", "r": 6, "v": 2.6},
    {"p": "p3", "side": "pos", "r": 7, "v": 2}, {"p": "p3", "side": "pos", "r": 8, "v": 1.6}, {"p": "p3", "side": "pos", "r": 9, "v": 1.2},
    {"p": "p3", "side": "pos", "r": 10, "v": 0.9}, {"p": "p3", "side": "pos", "r": 12, "v": 0.7}, {"p": "p3", "side": "pos", "r": 15, "v": 0.6},
    {"p": "p3", "side": "pos", "r": 20, "v": 0.5}, {"p": "p3", "side": "pos", "r": 25, "v": 0.5}, {"p": "p3", "side": "pos", "r": 30, "v": 0.4},
    {"p": "p3", "side": "neg", "r": 1, "v": -38}, {"p": "p3", "side": "neg", "r": 1.3, "v": -26}, {"p": "p3", "side": "neg", "r": 1.6, "v": -18},
    {"p": "p3", "side": "neg", "r": 2, "v": -15}, {"p": "p3", "side": "neg", "r": 3, "v": -9.3}, {"p": "p3", "side": "neg", "r": 4, "v": -5.3},
    {"p": "p3", "side": "neg", "r": 5, "v": -3.5}, {"p": "p3", "side": "neg", "r": 6, "v": -2.7}, {"p": "p3", "side": "neg", "r": 8, "v": -2},
    {"p": "p3", "side": "neg", "r": 9.3, "v": -1.7}, {"p": "p3", "side": "neg", "r": 13, "v": -1.2}, {"p": "p3", "side": "neg", "r": 17, "v": -1},
    {"p": "p3", "side": "neg", "r": 20, "v": -0.9}, {"p": "p3", "side": "neg", "r": 25, "v": -0.8}, {"p": "p3", "side": "neg", "r": 30, "v": -0.7}
  ],
  "band": [
    {"p": "p1", "side": "pos", "r": 2, "v": 11, "v2": 14.5}, {"p": "p1", "side": "pos", "r": 3, "v": 7.5, "v2": 12},
    {"p": "p1", "side": "pos", "r": 4, "v": 5, "v2": 10}, {"p": "p1", "side": "pos", "r": 5, "v": 4, "v2": 8.5},
    {"p": "p1", "side": "pos", "r": 6, "v": 3.5, "v2": 6.5}, {"p": "p1", "side": "pos", "r": 7, "v": 3, "v2": 5},
    {"p": "p1", "side": "pos", "r": 8, "v": 3.2, "v2": 4.1}, {"p": "p1", "side": "pos", "r": 10, "v": 2.6, "v2": 3.4},
    {"p": "p1", "side": "pos", "r": 12, "v": 1.9, "v2": 2.7}, {"p": "p1", "side": "pos", "r": 14, "v": 1.1, "v2": 1.9},
    {"p": "p1", "side": "pos", "r": 16, "v": 0.7, "v2": 1.3}, {"p": "p1", "side": "pos", "r": 19, "v": 0.2, "v2": 1},
    {"p": "p1", "side": "pos", "r": 22, "v": 0.2, "v2": 0.8}, {"p": "p1", "side": "pos", "r": 26, "v": 0.1, "v2": 0.6},
    {"p": "p1", "side": "pos", "r": 30, "v": 0.1, "v2": 0.5},
    {"p": "p1", "side": "neg", "r": 2, "v": -16, "v2": -12}, {"p": "p1", "side": "neg", "r": 3, "v": -12, "v2": -8},
    {"p": "p1", "side": "neg", "r": 4, "v": -9.5, "v2": -6}, {"p": "p1", "side": "neg", "r": 5, "v": -8.5, "v2": -5},
    {"p": "p1", "side": "neg", "r": 6, "v": -7, "v2": -4.5}, {"p": "p1", "side": "neg", "r": 7, "v": -5.8, "v2": -4.3},
    {"p": "p1", "side": "neg", "r": 9, "v": -4.3, "v2": -3.3}, {"p": "p1", "side": "neg", "r": 12, "v": -3.2, "v2": -2.2},
    {"p": "p1", "side": "neg", "r": 15, "v": -2.1, "v2": -1.3}, {"p": "p1", "side": "neg", "r": 20, "v": -1.6, "v2": -0.8},
    {"p": "p1", "side": "neg", "r": 30, "v": -1.4, "v2": -0.6},
    {"p": "p2", "side": "pos", "r": 1.5, "v": 27, "v2": 33}, {"p": "p2", "side": "pos", "r": 2, "v": 20, "v2": 28},
    {"p": "p2", "side": "pos", "r": 3, "v": 12, "v2": 18}, {"p": "p2", "side": "pos", "r": 4, "v": 6, "v2": 10},
    {"p": "p2", "side": "pos", "r": 5, "v": 3.5, "v2": 5.5}, {"p": "p2", "side": "pos", "r": 6, "v": 2.4, "v2": 3.6},
    {"p": "p2", "side": "pos", "r": 8, "v": 1.6, "v2": 2.4}, {"p": "p2", "side": "pos", "r": 10, "v": 1, "v2": 1.6},
    {"p": "p2", "side": "pos", "r": 14, "v": 0.4, "v2": 1}, {"p": "p2", "side": "pos", "r": 20, "v": 0.3, "v2": 0.9},
    {"p": "p2", "side": "pos", "r": 30, "v": 0.3, "v2": 0.9},
    {"p": "p2", "side": "neg", "r": 1.5, "v": -22, "v2": -15}, {"p": "p2", "side": "neg", "r": 2, "v": -16, "v2": -10},
    {"p": "p2", "side": "neg", "r": 3, "v": -13, "v2": -8}, {"p": "p2", "side": "neg", "r": 4, "v": -8, "v2": -4.5},
    {"p": "p2", "side": "neg", "r": 5, "v": -4.5, "v2": -2.7}, {"p": "p2", "side": "neg", "r": 6, "v": -3.3, "v2": -2.2},
    {"p": "p2", "side": "neg", "r": 8, "v": -2.5, "v2": -1.6}, {"p": "p2", "side": "neg", "r": 10, "v": -1.9, "v2": -1.2},
    {"p": "p2", "side": "neg", "r": 14, "v": -1.7, "v2": -1}, {"p": "p2", "side": "neg", "r": 20, "v": -1.6, "v2": -1},
    {"p": "p2", "side": "neg", "r": 30, "v": -1.6, "v2": -1},
    {"p": "p3", "side": "pos", "r": 1.5, "v": 18, "v2": 26}, {"p": "p3", "side": "pos", "r": 2, "v": 10, "v2": 16},
    {"p": "p3", "side": "pos", "r": 2.5, "v": 7, "v2": 10}, {"p": "p3", "side": "pos", "r": 3, "v": 5, "v2": 7.5},
    {"p": "p3", "side": "pos", "r": 4, "v": 3.8, "v2": 5.2}, {"p": "p3", "side": "pos", "r": 5, "v": 2.8, "v2": 3.8},
    {"p": "p3", "side": "pos", "r": 7, "v": 1.7, "v2": 2.3}, {"p": "p3", "side": "pos", "r": 10, "v": 0.7, "v2": 1.1},
    {"p": "p3", "side": "pos", "r": 15, "v": 0.4, "v2": 0.8}, {"p": "p3", "side": "pos", "r": 30, "v": 0.3, "v2": 0.6},
    {"p": "p3", "side": "neg", "r": 1.5, "v": -22, "v2": -15}, {"p": "p3", "side": "neg", "r": 2, "v": -18, "v2": -11},
    {"p": "p3", "side": "neg", "r": 3, "v": -11, "v2": -8}, {"p": "p3", "side": "neg", "r": 4, "v": -6.5, "v2": -4.5},
    {"p": "p3", "side": "neg", "r": 5, "v": -4, "v2": -3}, {"p": "p3", "side": "neg", "r": 7, "v": -2.6, "v2": -1.9},
    {"p": "p3", "side": "neg", "r": 10, "v": -1.9, "v2": -1.4}, {"p": "p3", "side": "neg", "r": 15, "v": -1.3, "v2": -0.8},
    {"p": "p3", "side": "neg", "r": 30, "v": -0.9, "v2": -0.6}
  ],
  "txtTop": [
    {"k": "L", "t": "a", "y": 17},
    {"k": "T", "t": "Unc. bacterium (AD3 Cand.)", "y": 17},
    {"k": "S", "t": "7d73ad368d75daf7ede102881350cbbd", "y": 30},
    {"k": "S", "t": "no cultured hit", "y": 42.5},
    {"k": "S", "t": "not hit in 511 \u201cmost wanted\u201d *", "y": 55},
    {"k": "L", "t": "b", "y": 76},
    {"k": "T", "t": "Unc. bacterium (AD3 Cand.)", "y": 76},
    {"k": "S", "t": "805255e60c5f201b8e37bb71ed6b5841", "y": 89},
    {"k": "S", "t": "no cultured hit", "y": 101.5},
    {"k": "S", "t": "not hit in 511 \u201cmost wanted\u201d *", "y": 114},
    {"k": "L", "t": "c", "y": 137},
    {"k": "T", "t": "Unc. bacterium (AD3 Cand.)", "y": 137},
    {"k": "S", "t": "2833b07b6cd697836ece415e879af80a", "y": 150},
    {"k": "S", "t": "no cultured hit", "y": 162.5},
    {"k": "S", "t": "not hit in 511 \u201cmost wanted\u201d *", "y": 175}
  ],
  "txtBot": [
    {"k": "L", "t": "d", "y": 8},
    {"k": "T", "t": "Unc. acidobacterium (Acidob.)", "y": 8},
    {"k": "S", "t": "1872f4f3e9d72874c7418eeaff148954", "y": 21},
    {"k": "S", "t": "no cultured hit", "y": 33.5},
    {"k": "S", "t": "not hit in 511 \u201cmost wanted\u201d *", "y": 46},
    {"k": "L", "t": "e", "y": 70},
    {"k": "T", "t": "Collimonas fungivorans (Betap.)", "y": 70},
    {"k": "S", "t": "a8625e1d935b1999f9d248c26da6fbd2", "y": 83},
    {"k": "S", "t": "FW303-A3 98.1%", "y": 95.5},
    {"k": "S", "t": "not hit in 511 \u201cmost wanted\u201d *", "y": 108},
    {"k": "L", "t": "f", "y": 132},
    {"k": "T", "t": "Burkholderia sp. (Betap.)", "y": 132},
    {"k": "S", "t": "e8d5d82db42ba8bb86228ecda3b7910a", "y": 145},
    {"k": "S", "t": "FW306-4A-A06C 100%", "y": 157.5},
    {"k": "S", "t": "not hit in 511 \u201cmost wanted\u201d *", "y": 170},
    {"k": "L", "t": "g", "y": 193},
    {"k": "T", "t": "Pseudomonas sp. (Gammap.)", "y": 193},
    {"k": "S", "t": "19e0986168a926d100cdd4715e50d52b", "y": 206},
    {"k": "S", "t": "DP16D-T1 100%", "y": 218.5},
    {"k": "S", "t": "OTU_157 2511231012_Pseudomonas 98%", "y": 231},
    {"k": "L", "t": "h", "y": 255},
    {"k": "T", "t": "Arthrobacter sp. (Actino.)", "y": 255},
    {"k": "S", "t": "9e3f3637c5cd85d7795b027a5c3dd653", "y": 268},
    {"k": "S", "t": "FW306-2-2C-G01 100%", "y": 280.5},
    {"k": "S", "t": "OTU_22 2531839309_Arthrobacter 98.4%", "y": 293},
    {"k": "L", "t": "i", "y": 317},
    {"k": "T", "t": "Varivorax sp.(Betap.)", "y": 317},
    {"k": "S", "t": "011c36cde2b620904921add0b5624ee1", "y": 330},
    {"k": "N", "t": "FW305-144 100%", "y": 342.5},
    {"k": "S", "t": "OTU_157 2513020051_Variovorax 100%", "y": 355},
    {"k": "L", "t": "j", "y": 378},
    {"k": "T", "t": "Sediminibacterium sp.(Bacter.)", "y": 378},
    {"k": "S", "t": "6bf4b61ae8046e69fa2294f160b1bed8", "y": 391},
    {"k": "S", "t": "no cultured hit", "y": 403.5},
    {"k": "S", "t": "not hit in 511 \u201cmost wanted\u201d *", "y": 416},
    {"k": "L", "t": "k", "y": 440},
    {"k": "T", "t": "Unc. bacterium (GAL15 Cand.)", "y": 440},
    {"k": "S", "t": "e02db5cb77bd23f8a10e9bd8ff6c3443", "y": 453},
    {"k": "S", "t": "no cultured hit", "y": 465.5},
    {"k": "S", "t": "not hit in 511 \u201cmost wanted\u201d *", "y": 478}
  ]
}
}
